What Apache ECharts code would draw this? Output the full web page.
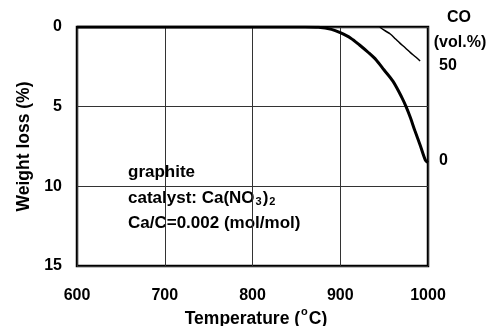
<!DOCTYPE html>
<html>
<head>
<meta charset="utf-8">
<script src="https://cdn.jsdelivr.net/npm/echarts@6/dist/echarts.min.js"></script>
<style>
  html, body { margin: 0; padding: 0; background: #fff; }
  #chart { width: 489px; height: 326px; }
</style>
</head>
<body>
<div id="chart"></div>
<script>
// Weight loss of catalysed graphite vs temperature, with CO evolution
const temperature = [600, 700, 800, 860, 875, 890, 900, 912, 922, 932, 941, 950, 960, 970, 975, 980, 985, 991, 997, 1000];
const weightLoss  = [0, 0, 0, 0, 0.02, 0.15, 0.36, 0.7, 1.13, 1.6, 2.07, 2.7, 3.4, 4.4, 5.0, 5.7, 6.5, 7.4, 8.35, 8.5];

const coTemperature = [945, 950, 957, 963, 968, 974, 980, 986, 991];
const coContent     = [70.5, 68.8, 66.8, 64.2, 62, 59.6, 57, 54.7, 52.6];

const xTicks = [600, 700, 800, 900, 1000];
const weightTicks = [0, 5, 10, 15];
const coTicks = [0, 50];

const font = 'Liberation Sans, Arial, sans-serif';
const chart = echarts.init(document.getElementById('chart'));

chart.setOption({
  animation: false,
  grid: {
    left: 77, right: 61, top: 27, bottom: 60,
    show: true, borderColor: '#000', borderWidth: 2.5,
    containLabel: false,
    outerBoundsMode: 'none'
  },
  xAxis: {
    type: 'value',
    min: xTicks[0], max: xTicks[xTicks.length - 1], interval: 100,
    axisLine: { show: false },
    axisTick: { show: false },
    splitLine: { show: true, lineStyle: { color: '#333', width: 1 } },
    axisLabel: {
      margin: 22, color: '#000', fontFamily: font, fontWeight: 'bold', fontSize: 16,
      formatter: v => String(v)
    }
  },
  yAxis: [
    {
      type: 'value',
      inverse: true,
      min: weightTicks[0], max: weightTicks[weightTicks.length - 1], interval: 5,
      axisLine: { show: false },
      axisTick: { show: false },
      splitLine: { show: true, lineStyle: { color: '#333', width: 1 } },
      axisLabel: {
        margin: 15, color: '#000', fontFamily: font, fontWeight: 'bold', fontSize: 16
      },
      name: 'Weight loss (%)',
      nameLocation: 'middle',
      nameGap: 42,
      nameTextStyle: { fontFamily: font, fontWeight: 'bold', fontSize: 17.5, color: '#000' }
    },
    {
      type: 'value',
      position: 'right',
      min: -55.3, max: 70.5,
      axisLine: { show: false },
      axisTick: { show: false },
      splitLine: { show: false },
      axisLabel: {
        customValues: coTicks,
        margin: 11, color: '#000', fontFamily: font, fontWeight: 'bold', fontSize: 16
      }
    }
  ],
  graphic: [
    {
      // x-axis title with a superscript degree mark
      type: 'text',
      x: 256, y: 317,
      style: {
        text: '{t|Temperature (}{s|o}{t|C)}',
        textAlign: 'center', textVerticalAlign: 'middle',
        rich: {
          t: { font: 'bold 17.5px ' + font, fill: '#000', lineHeight: 22, verticalAlign: 'bottom' },
          s: { font: 'bold 11px ' + font, fill: '#000', lineHeight: 11, verticalAlign: 'top', padding: [0, 1, 0, 1] }
        }
      }
    },
    {
      type: 'text',
      style: { text: 'CO', fill: '#000', font: 'bold 16px ' + font, textAlign: 'center' },
      x: 459, y: 10
    },
    {
      type: 'text',
      style: { text: '(vol.%)', fill: '#000', font: 'bold 16px ' + font, textAlign: 'center' },
      x: 460, y: 35
    },
    {
      type: 'text',
      x: 128, y: 160,
      style: {
        text: 'graphite\n{n|catalyst: Ca(NO}{b|3}{n|)}{b|2}\nCa/C=0.002 (mol/mol)',
        fill: '#000', font: 'bold 17px ' + font, lineHeight: 25.5,
        rich: {
          n: { font: 'bold 17px ' + font, fill: '#000', lineHeight: 25.5 },
          b: { font: 'bold 11px ' + font, fill: '#000', lineHeight: 11, verticalAlign: 'bottom', padding: [0, 1, 4, 1] }
        }
      }
    }
  ],
  series: [
    {
      type: 'line',
      yAxisIndex: 0,
      data: temperature.map((t, i) => [t, weightLoss[i]]),
      smooth: 0.3,
      showSymbol: false,
      lineStyle: { color: '#000', width: 3 }
    },
    {
      type: 'line',
      yAxisIndex: 1,
      data: coTemperature.map((t, i) => [t, coContent[i]]),
      smooth: 0.3,
      showSymbol: false,
      lineStyle: { color: '#000', width: 1.5 }
    }
  ]
});
</script>
</body>
</html>
